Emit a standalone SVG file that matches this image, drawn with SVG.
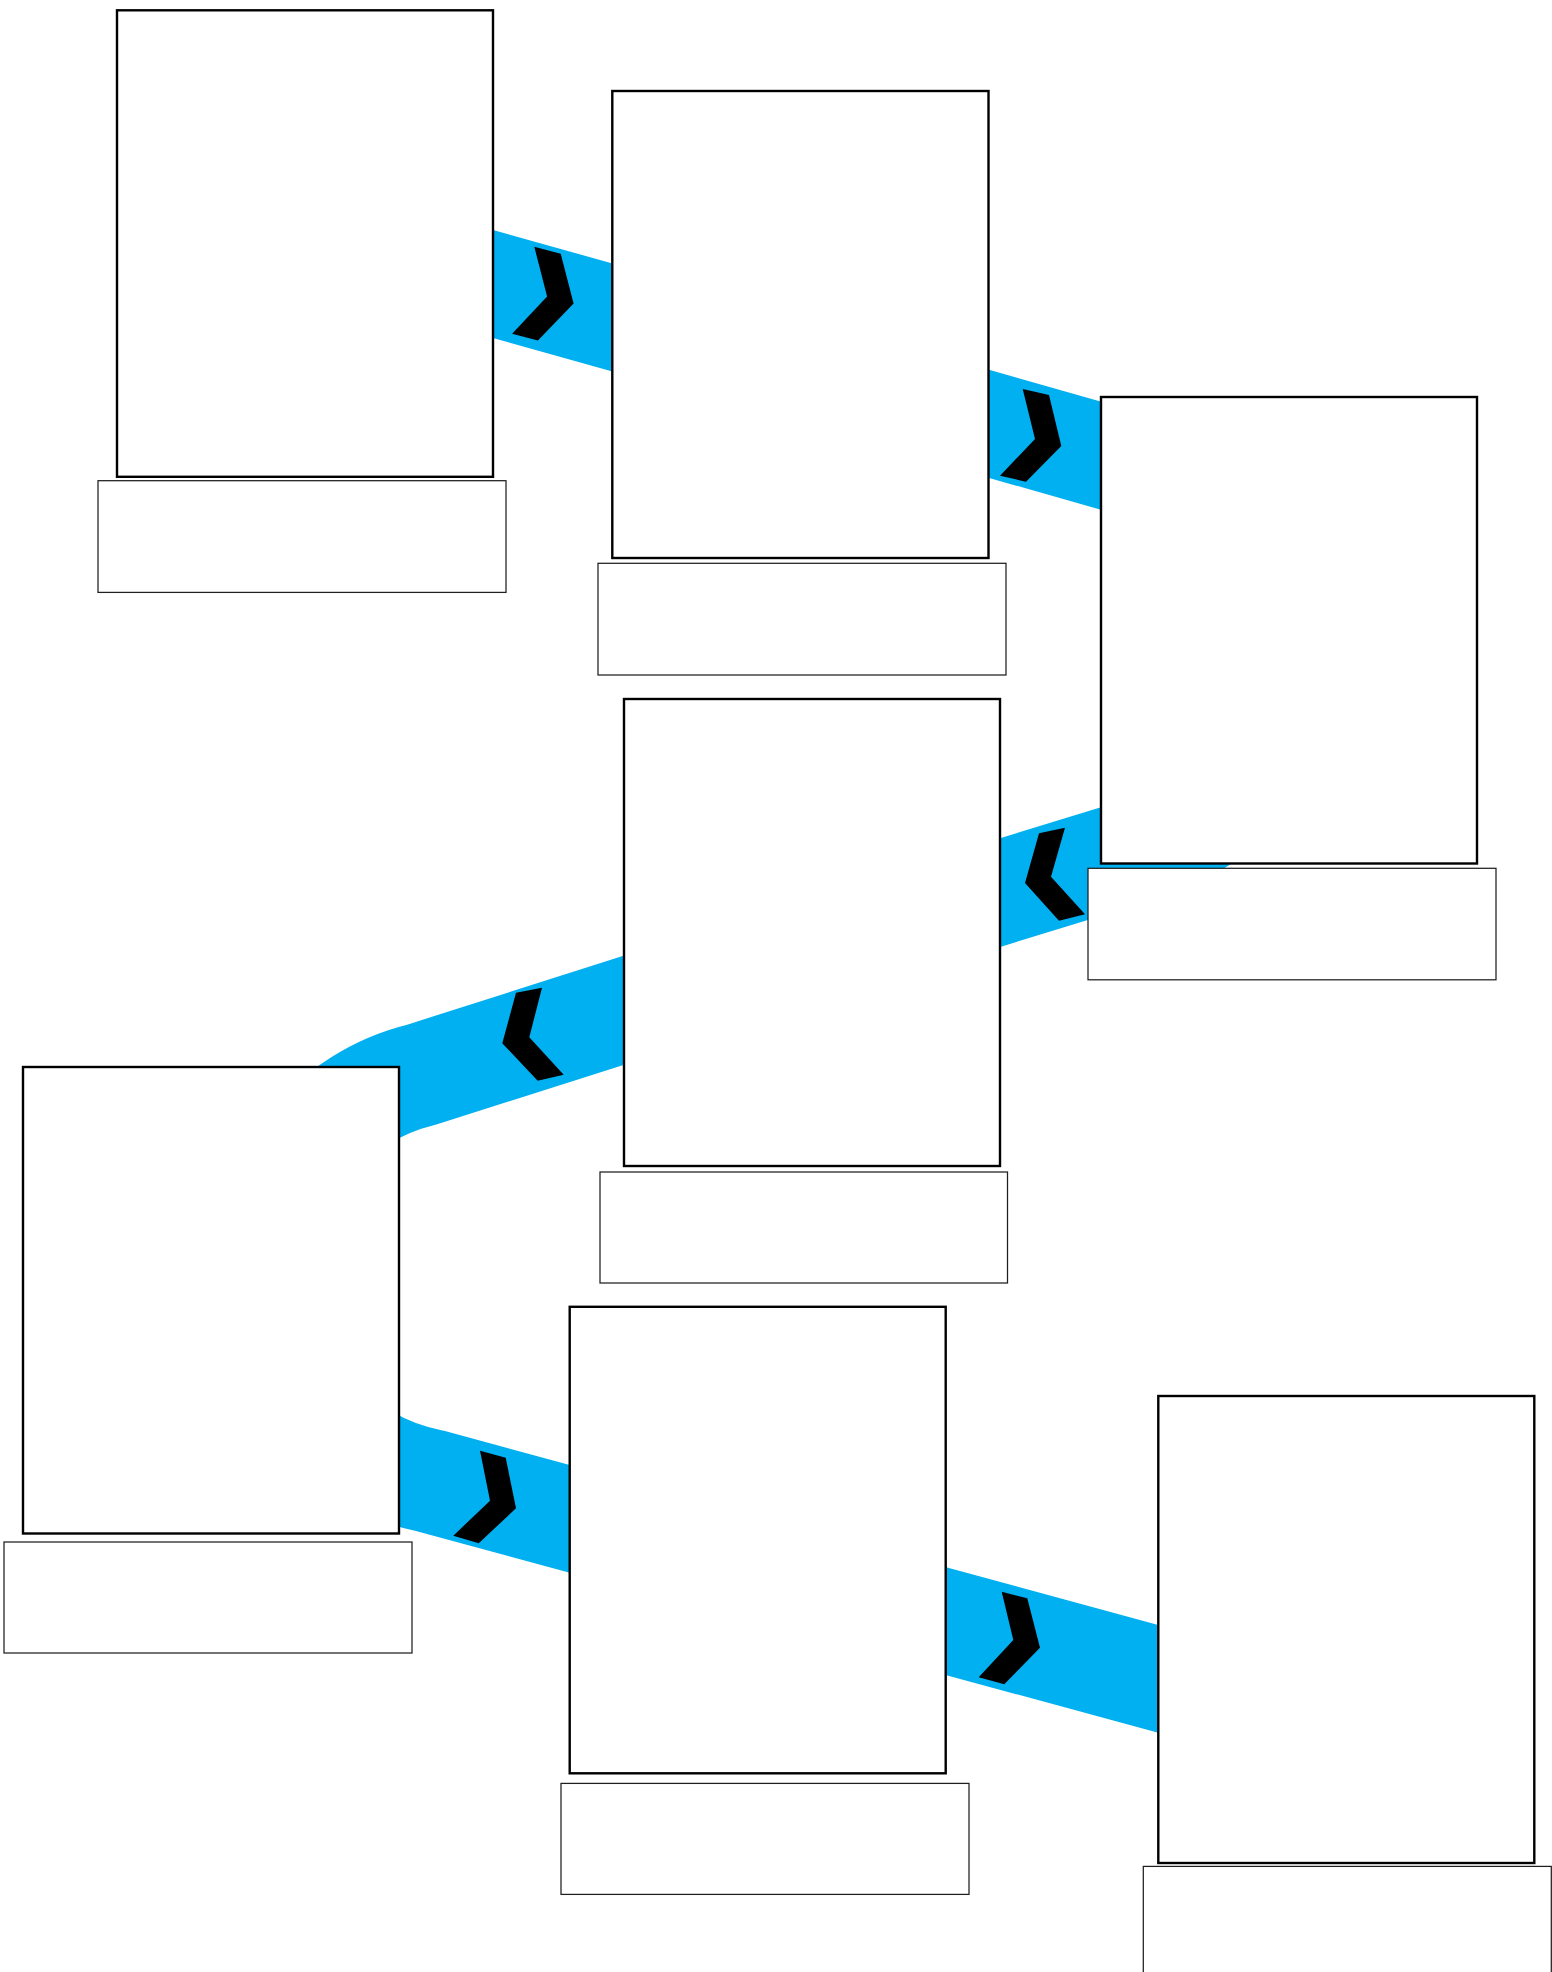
<svg xmlns="http://www.w3.org/2000/svg" width="1552" height="1972" viewBox="0 0 1552 1972">
<style>
.band{fill:none;stroke:#00B0F0;stroke-width:104;stroke-linejoin:round}
.chev{fill:#000000}
.pic{fill:#FFFFFF;stroke:#000000;stroke-width:2.4}
.lbl{fill:#FFFFFF;stroke:#1F1F1F;stroke-width:1.25}
</style>
<rect x="0" y="0" width="1552" height="1972" fill="#FFFFFF"/>
<g id="connectors">
<path class="band" d="M300,230 L800,370 L1141.7,467.3 A198,198 0 0 1 1146.2,847.7 L810,951 L421.4,1074.7 A208,208 0 0 0 430.4,1481 L1350,1731"/>
<polygon class="chev" points="534.3,246.8 560.7,253.7 573.6,303.5 537.9,340.6 512.1,333.7 547.1,296.6"/>
<polygon class="chev" points="1022.7,389 1049,395 1061.3,446 1026,481.7 1000,475.7 1035,439"/>
<polygon class="chev" points="1039,833.2 1065,827.7 1051,876.7 1085,914.2 1059,920.7 1025,883.1"/>
<polygon class="chev" points="516,992.7 542,987.7 529.3,1037.3 563.7,1074.7 537.7,1080.7 502.3,1043.3"/>
<polygon class="chev" points="480,1450.7 505.7,1457.7 516,1508.3 478.7,1543.3 453.3,1535.7 490,1500.7"/>
<polygon class="chev" points="1001.7,1591.7 1027.3,1598.3 1040,1647.7 1004.3,1684.3 978.7,1677.3 1013.3,1640"/>
</g>
<g id="node1">
<rect class="pic" x="117" y="10.3" width="376" height="466.5"/>
<rect class="lbl" x="98" y="480.7" width="408" height="111.7"/>
</g>
<g id="node2">
<rect class="pic" x="612.3" y="91" width="376.2" height="467"/>
<rect class="lbl" x="598" y="563.3" width="408" height="111.7"/>
</g>
<g id="node3">
<rect class="pic" x="1101" y="397" width="376" height="466.5"/>
<rect class="lbl" x="1088" y="868.3" width="408" height="111.5"/>
</g>
<g id="node4">
<rect class="pic" x="624" y="699" width="376" height="467"/>
<rect class="lbl" x="600" y="1172" width="407.5" height="111"/>
</g>
<g id="node5">
<rect class="pic" x="23" y="1067" width="376" height="466.5"/>
<rect class="lbl" x="4" y="1542" width="408" height="111"/>
</g>
<g id="node6">
<rect class="pic" x="569.7" y="1306.8" width="376" height="466.5"/>
<rect class="lbl" x="561" y="1783.4" width="408" height="111"/>
</g>
<g id="node7">
<rect class="pic" x="1158.3" y="1396" width="376" height="467"/>
<rect class="lbl" x="1143.3" y="1866.4" width="408" height="111"/>
</g>
</svg>
